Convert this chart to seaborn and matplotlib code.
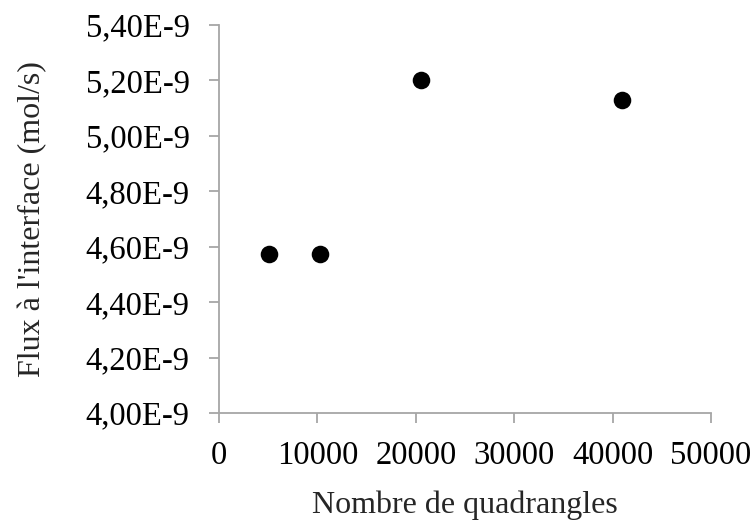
import matplotlib
matplotlib.use("Agg")
import matplotlib.pyplot as plt
import seaborn as sns
import pandas as pd
from matplotlib.ticker import FuncFormatter

# Mesh size vs interface flux
n_quadrangles = [5120, 10240, 20480, 40960]
flux = [4.575e-9, 4.575e-9, 5.200e-9, 5.128e-9]

df = pd.DataFrame({"quad": n_quadrangles, "flux": flux})

sns.set_theme(style="white")
plt.rcParams["font.family"] = ["Liberation Serif", "DejaVu Serif"]

axis_grey = "#a6a6a6"

fig = plt.figure(figsize=(7.54, 5.24), dpi=100)
ax = fig.add_axes([0.2905, 0.2118, 0.6525, 0.7405])

sns.scatterplot(data=df, x="quad", y="flux", ax=ax, color="black",
                s=160, edgecolor="black", linewidth=0, legend=False)

ax.set_xlim(0, 50000)
ax.set_ylim(4.0e-9, 5.4e-9)
ax.set_xticks([0, 10000, 20000, 30000, 40000, 50000])
ax.set_yticks([4.0e-9 + i * 0.2e-9 for i in range(8)])
ax.yaxis.set_major_formatter(FuncFormatter(lambda v, p: f"{v * 1e9:.2f}E-9".replace(".", ",")))
ax.xaxis.set_major_formatter(FuncFormatter(lambda v, p: f"{int(round(v))}"))

for side in ["top", "right"]:
    ax.spines[side].set_visible(False)
for side in ["left", "bottom"]:
    ax.spines[side].set_color(axis_grey)
    ax.spines[side].set_linewidth(1.3)

ax.tick_params(axis="both", which="major", direction="out", length=7, width=1.3,
               color=axis_grey, labelsize=23.5, labelcolor="black",
               left=True, bottom=True)
ax.tick_params(axis="x", pad=13)
ax.tick_params(axis="y", pad=14)

ax.set_xlabel("Nombre de quadrangles", fontsize=23, labelpad=14)
ax.set_ylabel("Flux à l'interface (mol/s)", fontsize=23, labelpad=28)
ax.grid(False)

fig.savefig("out.png", dpi=100)
